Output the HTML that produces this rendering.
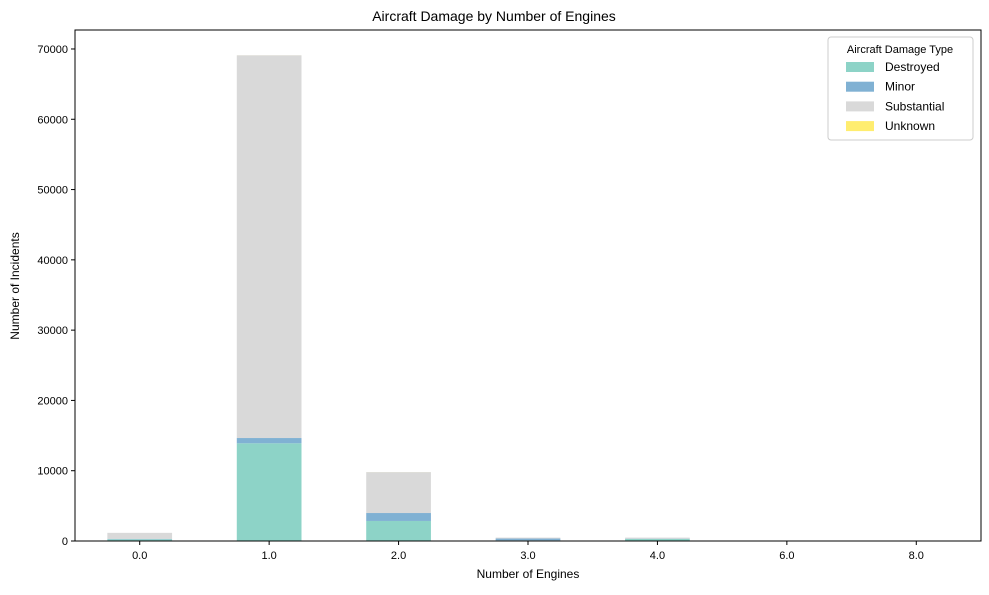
<!DOCTYPE html>
<html><head><meta charset="utf-8"><style>
body{margin:0;background:#fff;font-family:"Liberation Sans",Arial,sans-serif}
svg text{font-family:"Liberation Sans",Arial,sans-serif;fill:#000}
</style></head><body>
<svg id="c" width="989" height="590"></svg>
<script>
const categories=["0.0","1.0","2.0","3.0","4.0","6.0","8.0"];
const destroyed=[250,13900,2850,100,300,5,5];
const minor=[60,750,1130,250,30,0,0];
const substantial=[850,54450,5820,130,150,5,5];
const unknown=[0,5,5,0,0,0,0];
const yTicks=[0,10000,20000,30000,40000,50000,60000,70000];
const seriesNames=["Destroyed","Minor","Substantial","Unknown"];
const colors=["#8dd3c7","#80b1d3","#d9d9d9","#ffed6f"];
const series=[destroyed,minor,substantial,unknown];
const NS="http://www.w3.org/2000/svg";
const svg=document.getElementById('c');
const L=75,R=981,T=30,B=541,yMax=72700;
const step=(R-L)/categories.length;
const xs=i=>L+step*(i+0.5);
const ys=v=>B-(B-T)*v/yMax;
function mk(t,a,p){const e=document.createElementNS(NS,t);for(const k in a)e.setAttribute(k,a[k]);(p||svg).appendChild(e);return e;}
function tx(x,y,s,size,anchor,extra){const e=mk('text',Object.assign({x:x,y:y,'font-size':size,'text-anchor':anchor||'start'},extra||{}));e.textContent=s;return e;}
const title=tx(494,21,"Aircraft Damage by Number of Engines",14,'middle');


categories.forEach((c,i)=>{
  let base=0;
  series.forEach((s,k)=>{
    const v=s[i];
    const r=mk('rect',{x:xs(i)-step*0.25,y:ys(base+v),width:step*0.5,height:ys(base)-ys(base+v),fill:colors[k]});
    
    
    base+=v;
  });
  mk('line',{x1:xs(i),x2:xs(i),y1:B,y2:B+4,stroke:'#000'});
  const t=tx(xs(i),B+18,c,11,'middle');
  
  
});
yTicks.forEach(v=>{
  mk('line',{x1:L-4,x2:L,y1:ys(v),y2:ys(v),stroke:'#000'});
  const t=tx(L-7,ys(v)+4,String(v),11,'end');
  
  
});
const frame=mk('rect',{x:L,y:T,width:R-L,height:B-T,fill:'none',stroke:'#000','stroke-width':1});


const xl=tx((L+R)/2,578,"Number of Engines",12,'middle');


const yl=tx(0,0,"Number of Incidents",12,'middle',{transform:'translate(19,286) rotate(-90)'});


const lg=mk('g',{});


mk('rect',{x:828,y:37,width:145,height:103,rx:3,fill:'#fff',stroke:'#ccc'},lg);
const lt=mk('text',{x:900,y:53,'font-size':11,'text-anchor':'middle'},lg);lt.textContent="Aircraft Damage Type";
seriesNames.forEach((n,k)=>{
  const g=mk('g',{},lg);
  
  
  const y=67+k*19.7;
  mk('rect',{x:846,y:y-5,width:28,height:10,fill:colors[k]},g);
  const t=mk('text',{x:885,y:y+4,'font-size':12},g);t.textContent=n;
});
</script>
</body></html>
